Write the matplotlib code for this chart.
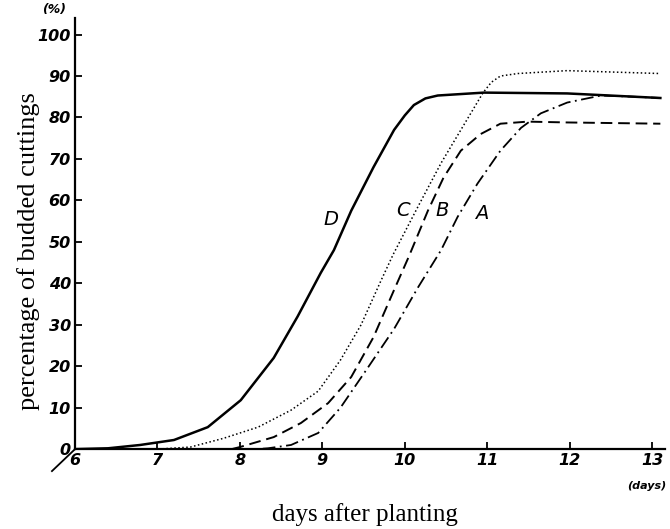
import numpy as np
import matplotlib
matplotlib.use('Agg')
import matplotlib.pyplot as plt

# curves (days, percent)
days_a = [6.0, 8.2, 8.34, 8.62, 8.95, 9.22, 9.55, 9.87, 10.16, 10.44, 10.64, 10.88, 11.16, 11.41, 11.65, 11.97, 12.38, 12.78, 13.1]
pct_a = [0, 0, 0.2, 1.0, 3.9, 10, 19.6, 29, 39, 48, 56, 64, 72, 77.5, 81, 83.6, 85.3, 85, 84.7]

days_b = [6.0, 7.9, 8.0, 8.41, 8.74, 9.07, 9.35, 9.62, 9.87, 10.05, 10.28, 10.47, 10.68, 10.92, 11.16, 11.49, 11.97, 13.1]
pct_b = [0, 0, 0.5, 2.9, 6.3, 11.1, 17.4, 27, 38.4, 46.5, 57.5, 65.5, 72, 76, 78.5, 79, 78.8, 78.5]

days_c = [6.0, 7.0, 7.4, 7.8, 8.22, 8.62, 8.95, 9.22, 9.47, 9.71, 9.86, 10.16, 10.44, 10.68, 10.95, 11.05, 11.16, 11.37, 11.97, 13.1]
pct_c = [0, 0, 0.5, 2.6, 5.3, 9.4, 14, 21.5, 30, 40.6, 47, 58.5, 69, 77, 86, 88.5, 90, 90.6, 91.3, 90.6]

days_d = [6.0, 6.4, 6.79, 7.2, 7.61, 8.01, 8.41, 8.70, 8.98, 9.14, 9.35, 9.62, 9.87, 10.0, 10.11, 10.25, 10.4, 10.96, 11.97, 13.1]
pct_d = [0, 0.2, 1.0, 2.2, 5.3, 11.8, 22, 32, 42.5, 48, 57.5, 68, 77, 80.5, 83, 84.6, 85.3, 86, 85.8, 84.7]

curve_names = ['A', 'B', 'C', 'D']
label_pos = [(10.93, 56.8), (10.45, 57.5), (9.98, 57.5), (9.1, 55.5)]

x_ticks = [6, 7, 8, 9, 10, 11, 12, 13]
y_ticks = list(range(0, 101, 10))

fig = plt.figure(figsize=(6.7, 5.29), dpi=100)
ax = fig.add_axes([0.112, 0.151, 0.881, 0.815])

ax.plot(days_a, pct_a, color='black', lw=1.3, linestyle=(0, (7, 2.5, 1, 2.5)))
ax.plot(days_b, pct_b, color='black', lw=1.4, linestyle=(0, (6, 3)))
ax.plot(days_c, pct_c, color='black', lw=1.1, linestyle=(0, (1, 1.6)))
ax.plot(days_d, pct_d, color='black', lw=1.8, linestyle='-')

for name, (xp, yp) in zip(curve_names, label_pos):
    ax.text(xp, yp, name, fontsize=14, style='italic', family='DejaVu Sans',
            ha='center', va='center')

ax.set_xlim(6, 13.16)
ax.set_ylim(0, 104)
ax.spines['top'].set_visible(False)
ax.spines['right'].set_visible(False)
ax.spines['left'].set_linewidth(1.6)
ax.spines['bottom'].set_linewidth(1.6)

ax.set_xticks(x_ticks)
ax.set_yticks(y_ticks)
ax.set_xticklabels([str(t) for t in x_ticks], fontsize=11.5, style='italic', weight='bold')
ax.set_yticklabels([str(t) for t in y_ticks], fontsize=11.5, style='italic', weight='bold')
ax.tick_params(direction='in', length=5, width=1.3, pad=3)

fig.text(365 / 670, 1 - 515 / 529, 'days after planting', fontsize=18,
         family='Liberation Serif', ha='center', va='center')
fig.text(29 / 670, 1 - 251 / 529, 'percentage of budded cuttings', fontsize=19,
         family='Liberation Serif', rotation=90, ha='center', va='center')

# little extras of the hand drawing
ax.text(-0.035, 1.005, '(%)', transform=ax.transAxes, fontsize=9, style='italic',
        weight='bold', ha='center', va='bottom')
ax.text(12.93, -9.0, '(days)', fontsize=8, style='italic', weight='bold', ha='center', va='center')
ax.plot([5.72, 6.0], [-5.3, 0], color='black', lw=1.3, clip_on=False)

fig.savefig('out.png', dpi=100)
